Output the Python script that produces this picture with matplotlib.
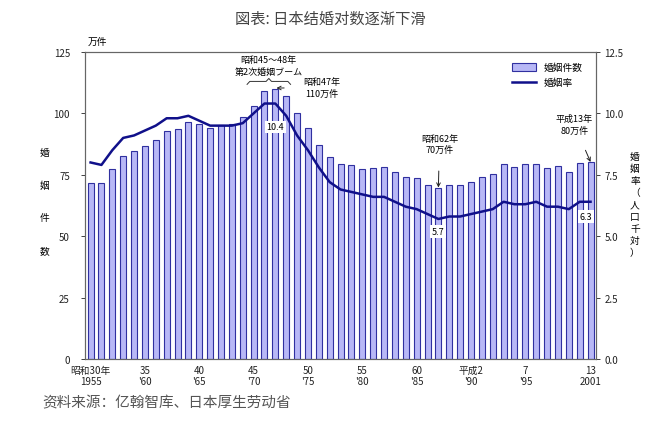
import matplotlib.pyplot as plt
import numpy as np

plt.rcParams['font.family'] = ['Noto Sans CJK JP', 'DejaVu Sans']

years = list(range(1955, 2002))
marriages = [71.5, 71.5, 77.3, 82.7, 84.8, 86.6, 89.0, 92.9, 93.8, 96.4,
             95.5, 94.0, 95.4, 95.6, 98.4, 102.9, 109.2, 110.0, 107.2, 100.1,
             94.2, 87.1, 82.1, 79.3, 78.9, 77.5, 77.7, 78.1, 76.3, 74.0,
             73.6, 71.0, 69.6, 70.8, 70.8, 72.2, 74.2, 75.4, 79.3, 78.2,
             79.2, 79.5, 77.6, 78.5, 76.2, 79.8, 80.0]
rate = [8.0, 7.9, 8.5, 9.0, 9.1, 9.3, 9.5, 9.8, 9.8, 9.9,
        9.7, 9.5, 9.5, 9.5, 9.6, 10.0, 10.4, 10.4, 9.9, 9.1,
        8.5, 7.8, 7.2, 6.9, 6.8, 6.7, 6.6, 6.6, 6.4, 6.2,
        6.1, 5.9, 5.7, 5.8, 5.8, 5.9, 6.0, 6.1, 6.4, 6.3,
        6.3, 6.4, 6.2, 6.2, 6.1, 6.4, 6.4]
tick_years = [1955, 1960, 1965, 1970, 1975, 1980, 1985, 1990, 1995, 2001]
tick_labels = ['昭和30年\n1955', '35\n\'60', '40\n\'65', '45\n\'70', '50\n\'75',
               '55\n\'80', '60\n\'85', '平成2\n\'90', '7\n\'95', '13\n2001']

fig = plt.figure(figsize=(6.6, 4.27), dpi=100)
ax = fig.add_axes([0.129, 0.157, 0.774, 0.719])
ax2 = ax.twinx()

ax.bar(years, marriages, width=0.55, color='#b8b8f6', edgecolor='#3030a0',
       linewidth=0.8, label='婚姻件数', zorder=2)
ax2.plot(years, rate, color='#10108a', linewidth=1.8, label='婚姻率', zorder=3)

ax.set_xlim(1954.5, 2001.5)
ax.set_ylim(0, 125)
ax2.set_ylim(0, 12.5)
ax.set_yticks([0, 25, 50, 75, 100, 125])
ax2.set_yticks([0, 2.5, 5, 7.5, 10, 12.5])
ax2.set_yticklabels(['0.0', '2.5', '5.0', '7.5', '10.0', '12.5'])
ax.set_xticks(tick_years)
ax.set_xticklabels(tick_labels)
ax.set_xticks(years, minor=True)

for a in (ax, ax2):
    a.tick_params(labelsize=7, colors='#222222', length=3, width=0.6)
    for s in a.spines.values():
        s.set_color('#666666')
        s.set_linewidth(0.8)
ax.tick_params(axis='x', which='both', direction='in', length=3, pad=4)
ax.tick_params(axis='y', pad=8)
ax2.tick_params(axis='y', pad=3)

fig.text(0.148, 0.895, '万件', fontsize=7, ha='center')
fig.text(0.068, 0.527, '婚\n\n姻\n\n件\n\n数', fontsize=7, ha='center', va='center',
         linespacing=1.8)
fig.text(0.962, 0.52, '婚\n姻\n率\n（\n人\n口\n千\n対\n）', fontsize=7,
         ha='center', va='center', linespacing=1.25)

fig.text(0.5, 0.945, '図表: 日本结婚对数逐渐下滑', fontsize=11, ha='center',
         color='#444444', family=['Noto Sans CJK SC', 'DejaVu Sans'])
fig.text(0.064, 0.045, '资料来源：亿翰智库、日本厚生劳动省', fontsize=10.5,
         color='#555555', family=['Noto Sans CJK SC', 'DejaVu Sans'])

# second marriage boom brace over 1970-1973
bx0, bx1, by = 1969.4, 1973.4, 111.8
bm = (bx0 + bx1) / 2
ax.plot([bx0, bx0 + 0.25, bm - 0.25, bm, bm + 0.25, bx1 - 0.25, bx1],
        [by, by + 1.2, by + 1.2, by + 2.4, by + 1.2, by + 1.2, by],
        color='#333333', lw=0.7, zorder=4, clip_on=False)
ax.text(bm, 119.5, '昭和45～48年\n第2次婚姻ブーム', fontsize=6.5, ha='center',
        va='center', linespacing=1.35)

ax.annotate('昭和47年\n110万件', xy=(1972.1, 110.3), xytext=(1976.3, 110.5),
            fontsize=6.5, ha='center', va='center', linespacing=1.35,
            arrowprops=dict(arrowstyle='->', color='#222222', lw=0.7,
                            shrinkA=12, shrinkB=0))
ax.annotate('昭和62年\n70万件', xy=(1987, 69.8), xytext=(1987.1, 87.5),
            fontsize=6.5, ha='center', va='center', linespacing=1.35,
            arrowprops=dict(arrowstyle='->', color='#222222', lw=0.7,
                            shrinkA=10, shrinkB=0))
ax.annotate('平成13年\n80万件', xy=(2001, 80.2), xytext=(1999.5, 95.5),
            fontsize=6.5, ha='center', va='center', linespacing=1.35,
            arrowprops=dict(arrowstyle='->', color='#222222', lw=0.7,
                            shrinkA=10, shrinkB=0))
box = dict(boxstyle='square,pad=0.2', fc='white', ec='none')
ax2.text(1972, 9.45, '10.4', fontsize=6.5, ha='center', va='center', bbox=box,
         zorder=5)
ax2.text(1987, 5.2, '5.7', fontsize=6.5, ha='center', va='center', bbox=box,
         zorder=5)
ax2.text(2000.6, 5.8, '6.3', fontsize=6.5, ha='center', va='center', bbox=box,
         zorder=5)

h1, l1 = ax.get_legend_handles_labels()
h2, l2 = ax2.get_legend_handles_labels()
ax2.legend(h1 + h2, l1 + l2, loc='upper right', bbox_to_anchor=(0.985, 0.985),
           fontsize=7, frameon=False, handlelength=2.4, handleheight=0.8,
           borderaxespad=0.2, labelspacing=0.5)

fig.savefig('out.png', dpi=100)
